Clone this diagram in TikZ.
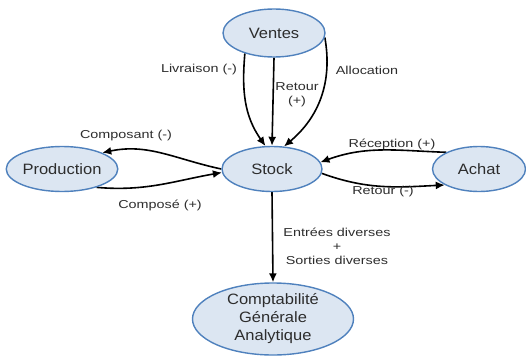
\documentclass[tikz,border=0pt]{standalone}
\usepackage{fontspec}
\setmainfont{Liberation Sans}
\newfontfamily\nodefont[FakeStretch=1.1]{Liberation Sans}
\newfontfamily\labelfont[FakeStretch=1.25]{Liberation Sans}
\usepackage{tikz}
\definecolor{fillblue}{RGB}{220,230,242}
\definecolor{edgeblue}{RGB}{79,129,189}
\definecolor{textgray}{RGB}{45,45,45}
\usetikzlibrary{shapes.geometric}
\usetikzlibrary{arrows.meta}
\pgfdeclarelayer{edgelayer}
\pgfdeclarelayer{nodelayer}
\pgfsetlayers{edgelayer,nodelayer,main}
\tikzstyle{module}=[ellipse,fill=fillblue,draw=edgeblue,line width=1.4pt,inner sep=0pt,text=textgray,font=\nodefont\fontsize{15}{18}\selectfont,align=center]
\tikzstyle{flow}=[text=textgray,font=\labelfont\fontsize{11.5}{14}\selectfont,align=center]
\tikzstyle{link}=[-{Latex[length=9pt,width=8pt]}, line width=1.6pt]

\begin{document}
\begin{tikzpicture}[x=1pt,y=-1pt]
        \useasboundingbox (0,0) rectangle (526,356);
        \begin{pgfonlayer}{nodelayer}
            \node [style = module, minimum width=102pt, minimum height=48pt] (ventes) at (274, 33) {Ventes};
            \node [style = module, minimum width=100pt, minimum height=45pt] (prod) at (62, 169) {Production};
            \node [style = module, minimum width=100pt, minimum height=45pt] (stock) at (272, 169) {Stock};
            \node [style = module, minimum width=93pt, minimum height=45pt] (achat) at (479, 169) {Achat};
            \node [style = module, minimum width=161pt, minimum height=72pt] (compta) at (273, 319) {Comptabilité\\Générale\\Analytique};

            \node [style = flow] (livraison) at (199, 70) {Livraison (-)};
            \node [style = flow] (retourv) at (297, 95) {Retour\\(+)};
            \node [style = flow] (allocation) at (367, 70) {Allocation};
            \node [style = flow] (composant) at (126, 136) {Composant (-)};
            \node [style = flow] (compose) at (160, 205) {Composé (+)};
            \node [style = flow] (reception) at (392, 144) {Réception (+)};
            \node [style = flow] (retoura) at (383, 192) {Retour (-)};
            \node [style = flow] (divers) at (337, 246) {Entrées diverses\\+\\Sorties diverses};
        \end{pgfonlayer}

        \begin{pgfonlayer}{edgelayer}
            \draw [style = link] (ventes.south) to (stock.north);
            \draw [style = link] (ventes.215) to[out=-95, in=125] (stock.106);
            \draw [style = link] (ventes.-5) to[out=-80, in=40] (stock.62);

            \draw [style = link] (stock.west) to[out=168, in=12] (prod.22);
            \draw [style = link] (prod.-28) to[out=-5, in=190] (stock.184);

            \draw [style = link] (achat.153) to[out=178, in=20] (stock.8);
            \draw [style = link] (stock.-5) to[out=-20, in=183] (achat.205);

            \draw [style = link] (stock.south) to (compta.north);
        \end{pgfonlayer}
    \end{tikzpicture}
\end{document}
